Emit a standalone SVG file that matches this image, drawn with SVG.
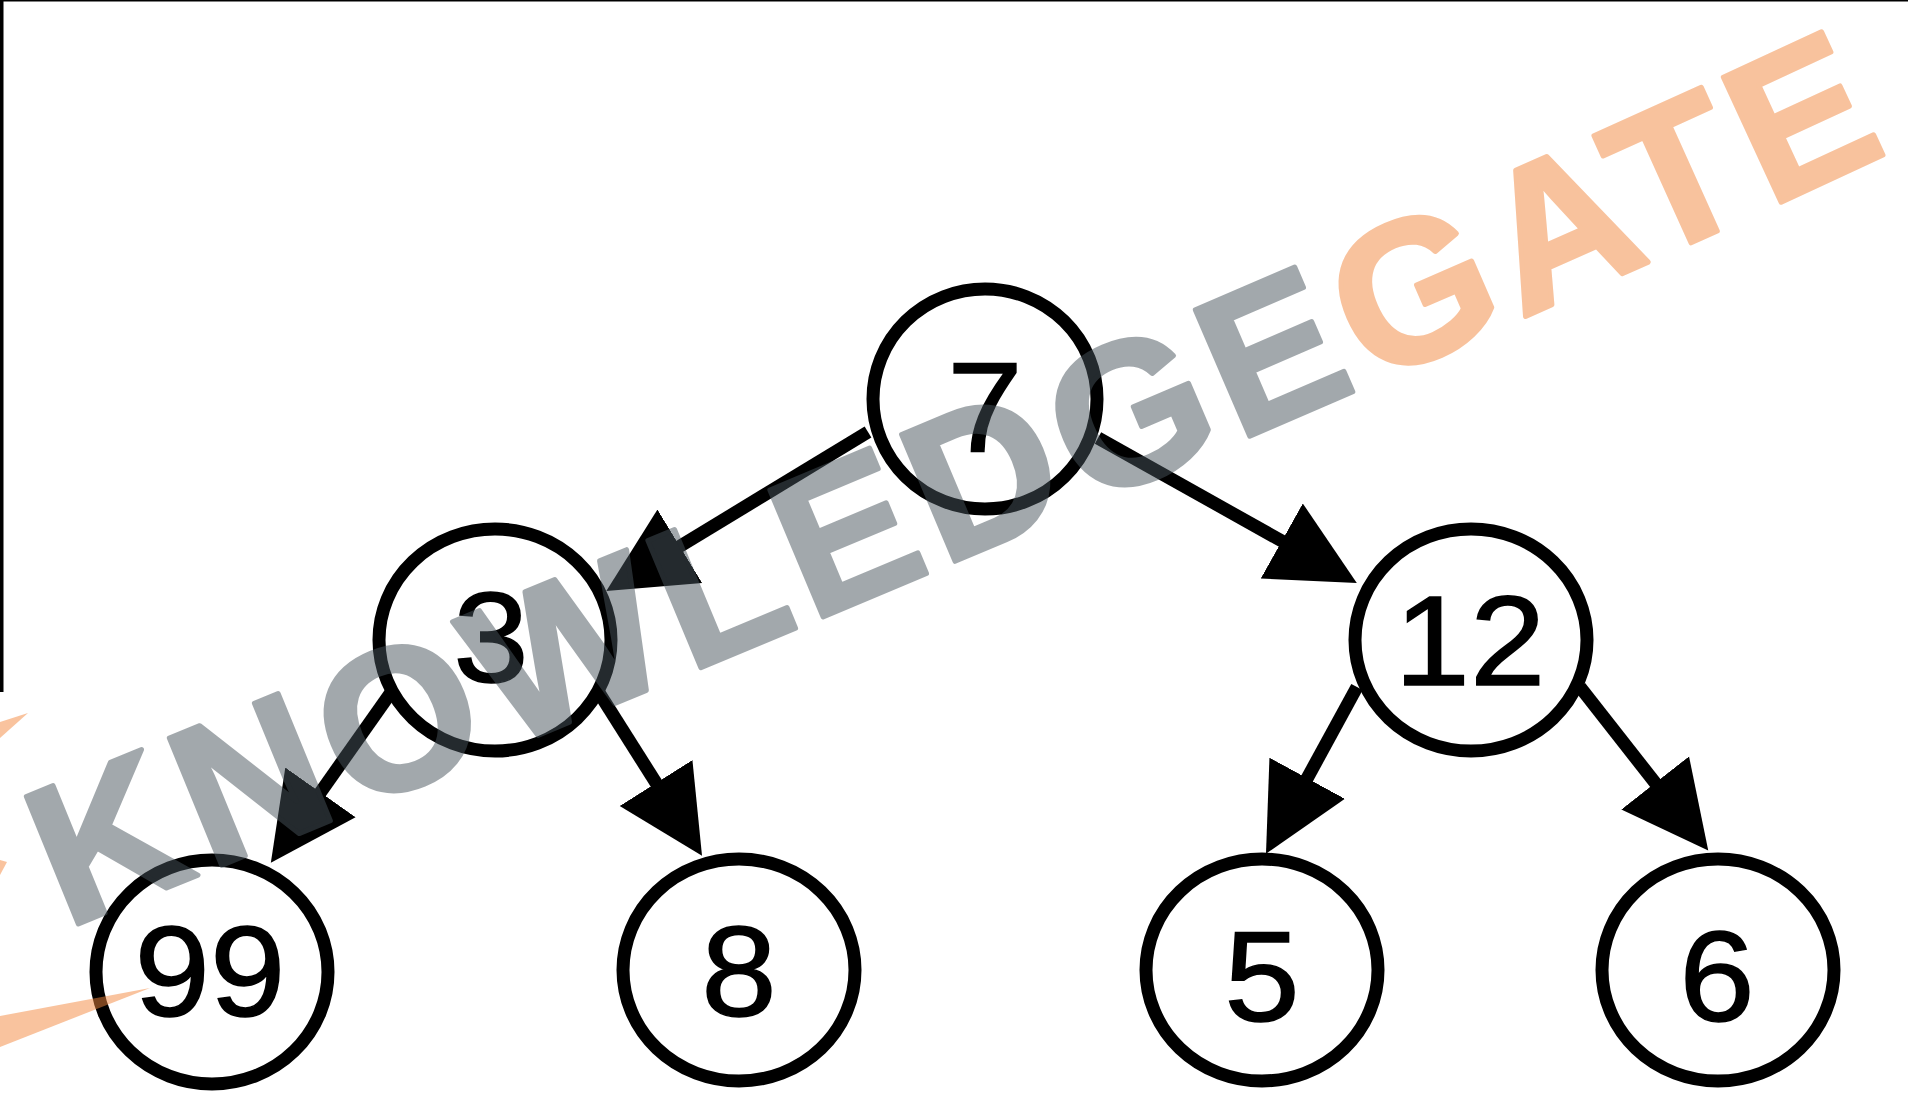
<svg xmlns="http://www.w3.org/2000/svg" width="1908" height="1108" viewBox="0 0 1908 1108">
<style>
.node ellipse{fill:#fff;stroke:#000;stroke-width:13}
.node text{font-family:"Liberation Sans",Arial,sans-serif;font-size:128px;fill:#000;stroke:#000;stroke-width:1.5;text-anchor:middle}
.edge{stroke:#000;stroke-width:13;fill:none;marker-end:url(#ah)}
.wm{font-family:"Liberation Sans",Arial,sans-serif;font-weight:bold;font-size:200px;letter-spacing:10px;stroke-width:5;stroke-linejoin:round}
.gray{fill:rgb(72,84,92);stroke:rgb(72,84,92)}
.orange{fill:rgb(243,135,61);stroke:rgb(243,135,61)}
.swoosh{fill:rgb(243,135,61);fill-opacity:0.5}
</style>
<defs>
<marker id="ah" markerUnits="userSpaceOnUse" markerWidth="92" markerHeight="92" viewBox="0 -46 92 92" refX="24" refY="0" orient="auto">
<path d="M0,-43 L86,0 L0,43 Z" fill="#000"/>
</marker>
<path id="wmpath" d="M66,929 Q1400,385 1940,128"/>
</defs>
<rect width="1908" height="1108" fill="#fff"/>
<rect x="0" y="0" width="1908" height="1.5" fill="#000"/>
<rect x="0" y="0" width="3.5" height="692" fill="#000"/>
<g id="connectors">
<line class="edge" x1="868" y1="432" x2="659.3" y2="558.8"/>
<line class="edge" x1="1098" y1="438" x2="1302.7" y2="552.7"/>
<line class="edge" x1="392" y1="691" x2="306.6" y2="812"/>
<line class="edge" x1="596" y1="688" x2="668.9" y2="803.3"/>
<line class="edge" x1="1357" y1="687" x2="1295.7" y2="799.3"/>
<line class="edge" x1="1580" y1="687" x2="1670" y2="801.8"/>
</g>
<g id="n7" class="node"><ellipse cx="985" cy="399" rx="112" ry="110"/><text transform="translate(985,452) scale(1.06,1)">7</text></g>
<g id="n3" class="node"><ellipse cx="495" cy="640" rx="116" ry="111"/><text transform="translate(491,682) scale(1.06,1)">3</text></g>
<g id="n12" class="node"><ellipse cx="1471" cy="640" rx="116" ry="111"/><text transform="translate(1470,685) scale(1.06,1)">12</text></g>
<g id="n99" class="node"><ellipse cx="212" cy="972" rx="116" ry="112"/><text transform="translate(210,1016) scale(1.06,1)">99</text></g>
<g id="n8" class="node"><ellipse cx="739" cy="970" rx="116" ry="111"/><text transform="translate(739,1016) scale(1.06,1)">8</text></g>
<g id="n5" class="node"><ellipse cx="1262" cy="970" rx="116" ry="111"/><text transform="translate(1262,1021) scale(1.06,1)">5</text></g>
<g id="n6" class="node"><ellipse cx="1718" cy="970" rx="116" ry="111"/><text transform="translate(1717,1021) scale(1.06,1)">6</text></g>
<g id="watermark">
<polygon class="swoosh" points="0,722 28,713 0,738"/>
<polygon class="swoosh" points="0,860 7,862 0,875"/>
<polygon class="swoosh" points="0,1016 150,988 0,1047"/>
<g opacity="0.5">
<text class="wm"><textPath href="#wmpath"><tspan class="gray">KNOWLEDGE</tspan><tspan class="orange">GATE</tspan></textPath></text>
</g>
</g>
</svg>
